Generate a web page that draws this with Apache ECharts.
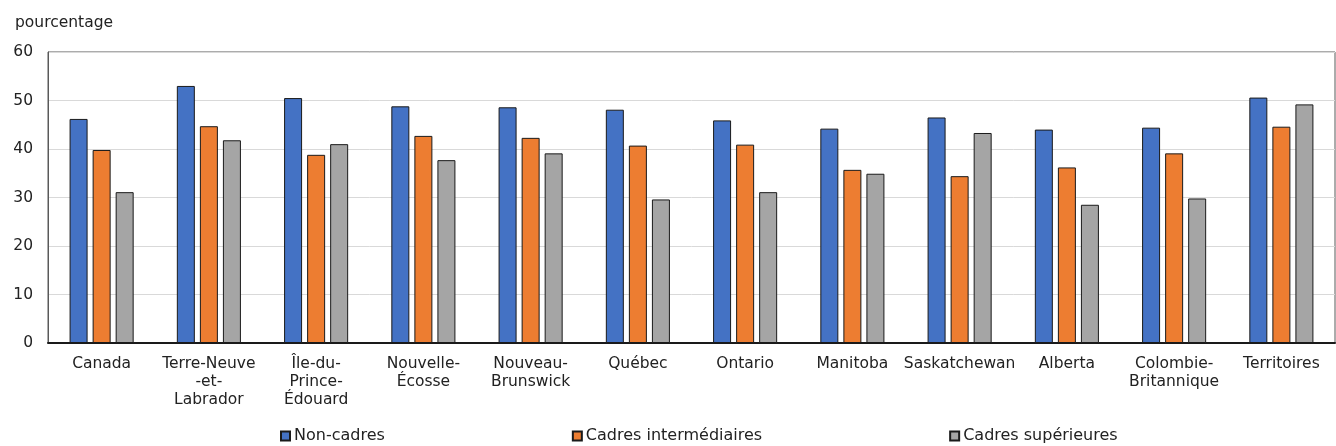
<!DOCTYPE html>
<html>
<head>
<meta charset="utf-8">
<script src="https://cdn.jsdelivr.net/npm/echarts@6/dist/echarts.min.js"></script>
<style>
  html, body { margin: 0; padding: 0; background: #ffffff; }
  #chart { width: 1336px; height: 446px; }
</style>
</head>
<body>
<div id="chart"></div>
<script>
// Provinces and territories (category axis)
const categories = [
  'Canada',
  'Terre-Neuve\n-et-\nLabrador',
  'Île-du-\nPrince-\nÉdouard',
  'Nouvelle-\nÉcosse',
  'Nouveau-\nBrunswick',
  'Québec',
  'Ontario',
  'Manitoba',
  'Saskatchewan',
  'Alberta',
  'Colombie-\nBritannique',
  'Territoires'
];

// Percentages by management level
const nonCadres = [46.2, 53.0, 50.5, 48.8, 48.6, 48.1, 45.9, 44.2, 46.5, 44.0, 44.4, 50.6];
const cadresIntermediaires = [39.8, 44.7, 38.8, 42.7, 42.3, 40.7, 40.9, 35.7, 34.4, 36.2, 39.1, 44.6];
const cadresSuperieures = [31.1, 41.8, 41.0, 37.7, 39.1, 29.6, 31.1, 34.9, 43.3, 28.5, 29.8, 49.2];

const seriesNames = ['Non-cadres', 'Cadres intermédiaires', 'Cadres supérieures'];
const seriesColors = ['#4472C4', '#ED7D31', '#A5A5A5'];
const seriesData = [nonCadres, cadresIntermediaires, cadresSuperieures];

// Y axis range
const yMin = 0;
const yMax = 60;
const yStep = 10;

const FONT = '"DejaVu Sans", Verdana, sans-serif';
const TEXT = '#222222';

const chart = echarts.init(document.getElementById('chart'), null, { renderer: 'canvas' });

chart.setOption({
  animation: false,
  backgroundColor: '#ffffff',
  textStyle: { fontFamily: FONT, color: TEXT },
  title: {
    text: 'pourcentage',
    left: 10,
    top: 10,
    textStyle: { fontFamily: FONT, fontSize: 15.5, fontWeight: 'normal', color: TEXT }
  },
  grid: {
    left: 48,
    right: 1,
    top: 52,
    bottom: 103,
    show: true,
    borderColor: '#595959',
    borderWidth: 1,
    containLabel: false
  },
  legend: {
    top: 423,
    left: 275,
    itemWidth: 9,
    itemHeight: 9,
    itemGap: 187,
    icon: 'rect',
    textStyle: { fontFamily: FONT, fontSize: 16, color: TEXT, padding: [0, 0, 0, -1] },
    data: seriesNames
  },
  xAxis: {
    type: 'category',
    data: categories,
    axisLine: { show: true, lineStyle: { color: '#1a1a1a', width: 2 } },
    axisTick: { show: false },
    axisLabel: {
      interval: 0,
      margin: 12,
      fontFamily: FONT,
      fontSize: 15.5,
      lineHeight: 18,
      color: TEXT,
      align: 'center'
    }
  },
  yAxis: {
    type: 'value',
    min: yMin,
    max: yMax,
    interval: yStep,
    axisLine: { show: true, lineStyle: { color: '#595959', width: 1 } },
    axisTick: { show: false },
    axisLabel: { fontFamily: FONT, fontSize: 15.5, color: TEXT, margin: 15 },
    splitLine: { show: true, lineStyle: { color: '#d9d9d9', width: 1 } }
  },
  series: seriesNames.map((name, i) => ({
    name: name,
    type: 'bar',
    data: seriesData[i],
    barWidth: 18,
    barGap: '28%',
    itemStyle: {
      color: seriesColors[i],
      borderColor: '#1a1a1a',
      borderWidth: 1
    }
  }))
});
</script>
</body>
</html>
